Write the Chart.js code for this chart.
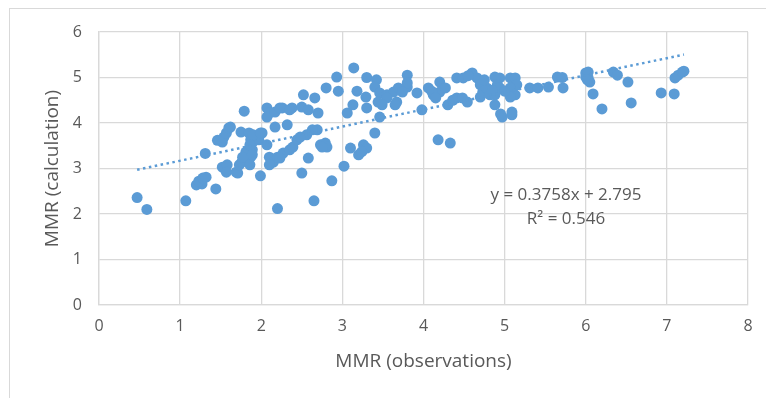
<!DOCTYPE html>
<html>
<head>
<meta charset="utf-8">
<script src="https://cdn.jsdelivr.net/npm/chart.js@4/dist/chart.umd.min.js"></script>
<style>
  html, body { margin: 0; padding: 0; background: #ffffff; }
  #wrap { position: relative; width: 766px; height: 398px; overflow: hidden; background: #ffffff; }
  #frame { position: absolute; left: 9px; top: 8px; width: 800px; height: 420px;
           border-left: 1px solid #d9d9d9; border-top: 1px solid #d9d9d9; }
  canvas { position: absolute; left: 0; top: 0; }
</style>
</head>
<body>
<div id="wrap">
  <div id="frame"></div>
  <canvas id="c" width="766" height="398"></canvas>
</div>
<script>
// ---- data ----
const xObs = [
  0.47, 0.59, 1.07, 2.20, 2.65,
  1.20, 1.27, 1.23, 1.28, 1.32, 1.44, 1.31,
  1.46, 1.52, 1.54, 1.57, 1.60, 1.62,
  1.79,
  1.52, 1.58, 1.57, 1.69, 1.71, 1.73, 1.76, 1.82, 1.81, 1.89, 1.87, 1.77,
  1.75, 1.85, 1.90, 1.96, 2.01, 1.97, 1.87,
  1.99,
  2.07, 2.10, 2.07, 2.17, 2.26, 2.38, 2.23, 2.35,
  2.17, 2.32,
  2.07, 2.10, 2.15, 2.20, 2.27, 2.35, 2.39, 2.44, 2.10, 2.23,
  1.90, 1.99, 1.86, 1.89, 1.86,
  2.52, 2.66, 2.50, 2.58, 2.70, 2.69, 2.63, 2.56, 2.48,
  2.73, 2.79, 2.81, 2.75,
  2.50, 2.58, 2.87, 3.02,
  2.80, 2.93, 2.95, 3.14,
  3.06, 3.13, 3.18, 3.30, 3.29,
  3.10, 3.20, 3.26, 3.30, 3.24,
  3.30, 3.42, 3.40, 3.46,
  3.40, 3.46, 3.55, 3.63, 3.69, 3.67, 3.80, 3.92, 3.80, 3.80,
  3.55, 3.44, 3.49, 3.65, 3.74,
  3.98, 4.06, 4.12, 4.20, 4.20, 4.27, 4.10, 4.15,
  4.30, 4.41, 4.48, 4.54, 4.36,
  4.18, 4.33,
  4.41, 4.49, 4.60, 4.66, 4.70, 4.73, 4.70, 4.78, 4.82, 4.55, 4.75,
  4.88, 4.94, 4.91, 4.94, 4.88, 4.88, 4.85,
  4.97, 5.09, 5.09, 4.95,
  5.07, 5.13, 5.15, 5.07, 5.13, 5.07, 5.00,
  5.31, 5.41, 5.54, 5.65, 5.72, 5.71,
  6.00, 6.03, 6.05, 6.00, 6.03, 6.02,
  6.09, 6.20, 6.34, 6.39, 6.52, 6.56, 6.93, 7.09, 7.10, 7.14, 7.19, 7.21
];
const yCalc = [
  2.36, 2.10, 2.29, 2.12, 2.29,
  2.64, 2.66, 2.72, 2.79, 2.81, 2.55, 3.33,
  3.62, 3.58, 3.69, 3.78, 3.89, 3.91,
  4.26,
  3.03, 3.08, 2.92, 2.92, 2.90, 3.08, 3.14, 3.19, 3.36, 3.41, 3.25, 3.25,
  3.80, 3.78, 3.69, 3.69, 3.78, 3.63, 3.63,
  2.84,
  4.33, 4.22, 4.13, 4.24, 4.33, 4.33, 4.33, 4.29,
  3.91, 3.96,
  3.52, 3.25, 3.14, 3.25, 3.34, 3.41, 3.47, 3.63, 3.08, 3.23,
  3.74, 3.78, 3.52, 3.30, 3.08,
  4.62, 4.55, 4.35, 4.29, 4.22, 3.85, 3.85, 3.74, 3.69,
  3.52, 3.56, 3.47, 3.47,
  2.90, 3.23, 2.73, 3.05,
  4.77, 5.01, 4.70, 5.21,
  4.22, 4.40, 4.70, 4.33, 4.57,
  3.45, 3.30, 3.52, 3.45, 3.37,
  5.00, 4.95, 3.78, 4.13,
  4.79, 4.66, 4.62, 4.68, 4.77, 4.46, 4.79, 4.66, 5.05, 4.88,
  4.55, 4.46, 4.40, 4.40, 4.68,
  4.29, 4.77, 4.62, 4.90, 4.68, 4.77, 4.70, 4.55,
  4.40, 4.55, 4.55, 4.46, 4.50,
  3.63, 3.56,
  4.99, 4.99, 5.10, 4.99, 4.84, 4.68, 4.57, 4.77, 4.62, 5.04, 4.95,
  5.01, 4.99, 4.84, 4.77, 4.62, 4.40, 4.72,
  4.13, 4.18, 4.24, 4.20,
  4.99, 4.99, 4.84, 4.77, 4.62, 4.57, 4.70,
  4.77, 4.77, 4.79, 5.01, 4.77, 5.00,
  5.10, 4.99, 4.90, 5.01, 5.12, 4.95,
  4.64, 4.31, 5.12, 5.05, 4.90, 4.44, 4.66, 4.64, 4.99, 5.05, 5.12, 5.14
];
const trendSlope = 0.3758;
const trendIntercept = 2.795;
const equationLabel = "y = 0.3758x + 2.795";
const rSquaredLabel = "R\u00B2 = 0.546";
const xTitle = "MMR (observations)";
const yTitle = "MMR (calculation)";
const xTicks = [0, 1, 2, 3, 4, 5, 6, 7, 8];
const yTicks = [0, 1, 2, 3, 4, 5, 6];

// ---- build datasets ----
const points = xObs.map((x, i) => ({ x: x, y: yCalc[i] }));
const xMin = Math.min(...xObs), xMax = Math.max(...xObs);
const trendPts = [xMin, xMax].map(x => ({ x: x, y: trendSlope * x + trendIntercept }));

const BLUE = '#5b9bd5';
const GRID = '#d9d9d9';
const TEXT = '#595959';
const FONT = "'Open Sans', 'DejaVu Sans', sans-serif";

const equationPlugin = {
  id: 'equation',
  afterDatasetsDraw(chart) {
    const ctx = chart.ctx;
    ctx.save();
    ctx.fillStyle = TEXT;
    ctx.font = "17px " + FONT;
    ctx.textAlign = 'center';
    ctx.textBaseline = 'middle';
    ctx.fillText(equationLabel, 566, 195);
    ctx.fillText(rSquaredLabel, 566, 219);
    ctx.restore();
  }
};

new Chart(document.getElementById('c'), {
  type: 'scatter',
  data: {
    datasets: [
      {
        type: 'line',
        data: trendPts,
        borderColor: BLUE,
        borderWidth: 2.5,
        borderDash: [2.5, 3.5],
        pointRadius: 0,
        fill: false,
        order: 0
      },
      {
        data: points,
        backgroundColor: BLUE,
        borderColor: BLUE,
        borderWidth: 0,
        pointRadius: 5.5,
        pointHoverRadius: 5.5,
        order: 1
      }
    ]
  },
  options: {
    responsive: false,
    animation: false,
    events: [],
    layout: { padding: { top: 32, right: 18, bottom: 25, left: 41 } },
    plugins: { legend: { display: false }, tooltip: { enabled: false } },
    scales: {
      x: {
        type: 'linear',
        min: 0, max: 8,
        afterBuildTicks: s => { s.ticks = xTicks.map(v => ({ value: v })); },
        afterFit: s => { s.height = 68; },
        grid: { color: GRID, lineWidth: 1.3, drawTicks: false },
        border: { color: GRID, width: 1.3 },
        ticks: { color: TEXT, font: { family: FONT, size: 16 }, padding: 12 },
        title: { display: true, text: xTitle, color: TEXT, font: { family: FONT, size: 19 }, padding: 0 }
      },
      y: {
        type: 'linear',
        min: 0, max: 6,
        afterBuildTicks: s => { s.ticks = yTicks.map(v => ({ value: v })); },
        afterFit: s => { s.width = 58; },
        grid: { color: GRID, lineWidth: 1.3, drawTicks: false },
        border: { color: GRID, width: 1.3 },
        ticks: { color: TEXT, font: { family: FONT, size: 16 }, padding: 17 },
        title: { display: true, text: yTitle, color: TEXT, font: { family: FONT, size: 19 }, padding: 0 }
      }
    }
  },
  plugins: [equationPlugin]
});
</script>
</body>
</html>
